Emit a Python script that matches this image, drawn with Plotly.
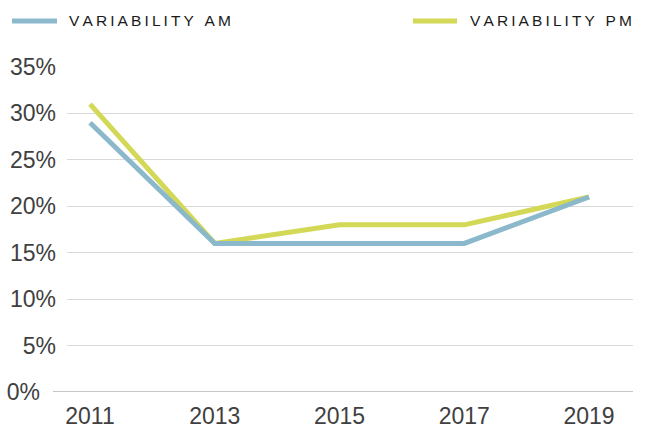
import plotly.graph_objects as go

years = [2011, 2013, 2015, 2017, 2019]
variability_am = [29, 16, 16, 16, 21]
variability_pm = [31, 16, 18, 18, 21]
y_ticks = [0, 5, 10, 15, 20, 25, 30, 35]
y_tick_labels = ["0%\u2002\u2009", "5%", "10%", "15%", "20%", "25%", "30%", "35%"]
series_names = ["VARIABILITY AM", "VARIABILITY PM"]

AM_COLOR = "#8bb8cb"
PM_COLOR = "#d3d856"

W, H = 647, 428
ML, MR, MT, MB = 67, 14, 67, 36
PW = W - ML - MR
PH = H - MT - MB

def px_x(px):
    return (px - ML) / PW

def px_y(py):
    return (H - MB - py) / PH

def spaced(s):
    return "\u2009".join(list(s))

fig = go.Figure()
fig.add_trace(go.Scatter(x=years, y=variability_pm, mode="lines", name=series_names[1],
                         line=dict(color=PM_COLOR, width=5), showlegend=False, hoverinfo="skip"))
fig.add_trace(go.Scatter(x=years, y=variability_am, mode="lines", name=series_names[0],
                         line=dict(color=AM_COLOR, width=5), showlegend=False, hoverinfo="skip"))

# axis line at 0%, extending a little left of the gridlines
fig.add_shape(type="line", xref="paper", yref="y", x0=px_x(53), x1=1, y0=0, y1=0,
              line=dict(color="#b3b3b3", width=1.5))

# custom legend
legend_y = px_y(21)
for name, color, lx0, lx1, tx in [
    (series_names[0], AM_COLOR, 12, 57, 68),
    (series_names[1], PM_COLOR, 413, 457, 469),
]:
    fig.add_shape(type="line", xref="paper", yref="paper", x0=px_x(lx0), x1=px_x(lx1),
                  y0=legend_y, y1=legend_y, line=dict(color=color, width=5))
    fig.add_annotation(xref="paper", yref="paper", x=px_x(tx), y=legend_y,
                       text=spaced(name), showarrow=False, xanchor="left", yanchor="middle",
                       borderpad=0,
                       font=dict(family="Liberation Sans, Arial, sans-serif", size=15.5, color="#1a1a1a"))

fig.update_layout(
    width=W, height=H,
    margin=dict(l=ML, r=MR, t=MT, b=MB, pad=0, autoexpand=False),
    paper_bgcolor="white", plot_bgcolor="white",
    font=dict(family="Liberation Sans, Arial, sans-serif", size=23, color="#404040"),
    xaxis=dict(range=[2010.631, 2019.705], tickvals=years, ticktext=[str(y) for y in years],
               showgrid=False, zeroline=False, showline=False, ticks="", automargin=False,
               ticklabelstandoff=8, fixedrange=True),
    yaxis=dict(range=[0, 35], tickvals=y_ticks, ticktext=y_tick_labels,
               showgrid=True, gridcolor="#d9d9d9", gridwidth=1, zeroline=False, automargin=False,
               showline=False, ticks="", ticklabelstandoff=10, fixedrange=True),
)

fig.write_html("out.html", config={"displayModeBar": False, "staticPlot": True},
               post_script="document.body.style.margin='0';document.body.style.overflow='hidden';")
